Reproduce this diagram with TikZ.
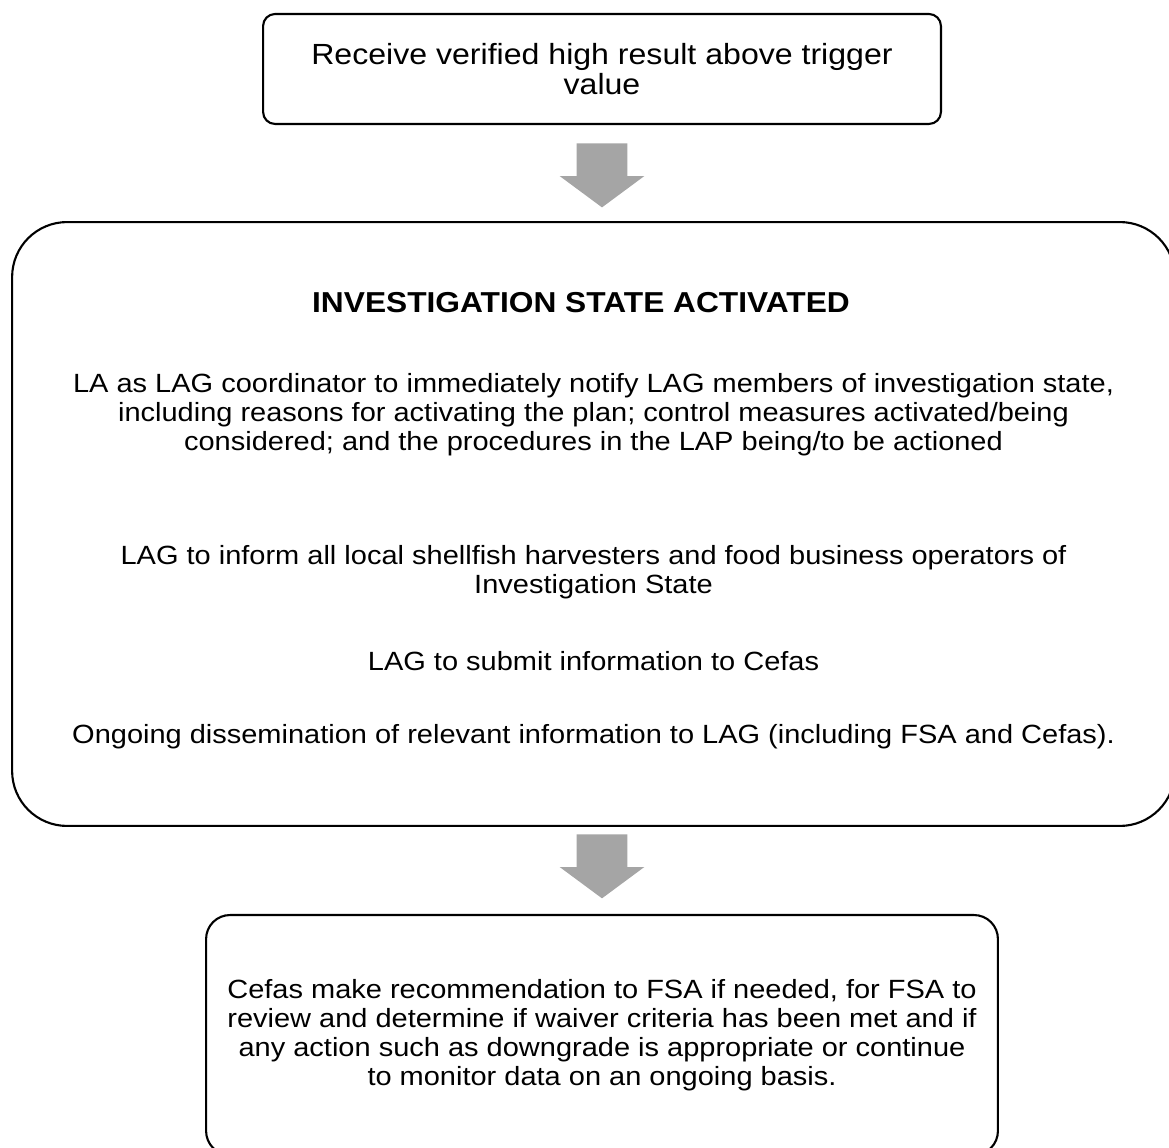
\documentclass[tikz,border=0pt]{standalone}
\usepackage{fontspec}
\setmainfont{Liberation Sans}[FakeStretch=1.1]
\usetikzlibrary{calc,shapes.arrows}
\definecolor{arrowgray}{HTML}{A5A5A5}
\begin{document}
\begin{tikzpicture}[x=0.02cm,y=-0.02cm,
        roundbox/.style={draw,line width=1.2pt,inner sep=0pt,align=center},
        bodytext/.style={align=center,font=\fontsize{15}{16.5}\selectfont},
        titletext/.style={align=center,font=\bfseries\fontsize{16.4}{18}\selectfont},
        downarrow/.style={single arrow,fill=arrowgray,draw=none,rotate=-90,anchor=tail,inner xsep=0pt,inner ysep=0.5cm,
            minimum height=1.28cm,single arrow head extend=0.34cm,single arrow tip angle=107}]
        \useasboundingbox (0,0) rectangle (1169,1148);

        % Boxes
        \node[roundbox,rounded corners=0.24cm,minimum width=13.56cm,minimum height=2.2cm,font=\fontsize{16.6}{17}\selectfont] (receive) at (602,69) {Receive verified high result above trigger\\value};
        \node[roundbox,rounded corners=1.1cm,minimum width=23.26cm,minimum height=12.08cm] (investigation) at (593.5,524) {};
        \node[roundbox,rounded corners=0.48cm,minimum width=15.84cm,minimum height=4.8cm,bodytext] (decision) at (602,1035) {Cefas make recommendation to FSA if needed, for FSA to\\review and determine if waiver criteria has been met and if\\any action such as downgrade is appropriate or continue\\to monitor data on an ongoing basis.};

        % Investigation state text
        \node[titletext] (title) at (581,303) {INVESTIGATION STATE ACTIVATED};
        \node[bodytext] (notify) at (593.5,415) {LA as LAG coordinator to immediately notify LAG members of investigation state,\\including reasons for activating the plan; control measures activated/being\\considered; and the procedures in the LAP being/to be actioned};
        \node[bodytext] (inform) at (593.5,572.5) {LAG to inform all local shellfish harvesters and food business operators of\\Investigation State};
        \node[bodytext] (submit) at (593.5,661) {LAG to submit information to Cefas};
        \node[bodytext] (ongoing) at (593.5,737) {Ongoing dissemination of relevant information to LAG (including FSA and Cefas).};

        % Arrows
        \node[downarrow] (arrowA) at ($(receive.south)+(0,18)$) {};
        \node[downarrow] (arrowB) at ($(decision.north|-investigation.south)+(0,7)$) {};
    \end{tikzpicture}
\end{document}
